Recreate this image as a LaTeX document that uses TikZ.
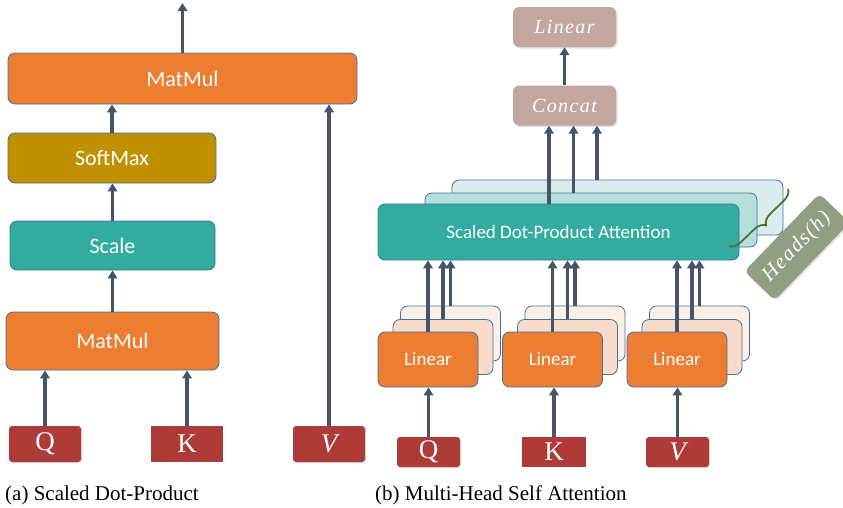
\RequirePackage{fix-cm}
\documentclass[tikz,border=0pt]{standalone}
\usepackage{fontspec}
\newfontfamily\boxfont{Carlito}
\newfontfamily\serfont{Liberation Serif}
\newfontfamily\eqfont[LetterSpace=7]{Liberation Serif}
\usetikzlibrary{arrows.meta,decorations.pathreplacing,shadows}
\definecolor{orng}{HTML}{ED7D31}
\definecolor{gold}{HTML}{BF9000}
\definecolor{teal1}{HTML}{32AC9E}
\definecolor{teal2}{HTML}{B5DFDA}
\definecolor{teal3}{HTML}{D9EEEC}
\definecolor{peach2}{HTML}{F8DCCB}
\definecolor{peach3}{HTML}{FCEFE6}
\definecolor{dred}{HTML}{AE3B37}
\definecolor{rosy}{HTML}{C4A6A1}
\definecolor{bord}{HTML}{41719C}
\definecolor{arrc}{HTML}{44546A}
\definecolor{headc}{HTML}{919E81}
\definecolor{bracec}{HTML}{4F7030}
\begin{document}
\begin{tikzpicture}[x=1pt,y=-1pt,
  bx/.style={draw=bord, line width=0.8pt, rounded corners=7pt, inner sep=0pt, text=white, font=\boxfont\fontsize{22}{24}\selectfont},
  lbx/.style={bx, minimum width=100pt, minimum height=55pt, font=\boxfont\fontsize{19}{22}\selectfont},
  inp/.style={fill=dred, inner sep=0pt, text=white, font=\serfont\fontsize{27}{29}\selectfont, rounded corners=3pt, drop shadow={opacity=0.25, shadow xshift=1pt, shadow yshift=-1pt}},
  inpsq/.style={fill=dred, inner sep=0pt, text=white, font=\serfont\fontsize{27}{29}\selectfont},
  rbx/.style={fill=rosy, inner sep=0pt, text=white, rounded corners=6pt, minimum width=103pt, minimum height=40pt, font=\eqfont\itshape\fontsize{20}{22}\selectfont, drop shadow={opacity=0.25, shadow xshift=1.5pt, shadow yshift=-1.5pt}},
  arr/.style={draw=arrc, line width=3.1pt, -{Triangle[width=9.5pt,length=8pt]}},
  captxt/.style={anchor=base west, inner sep=0pt, font=\serfont\fontsize{21}{24}\selectfont}
]
\useasboundingbox (0,0) rectangle (843,507);

% ---------- (a) ----------
\node[bx, fill=orng, minimum width=349pt, minimum height=51pt] (mm1) at (182.5,78.5) {MatMul};
\node[bx, fill=gold, minimum width=208pt, minimum height=50pt] (sm) at (112,158) {SoftMax};
\node[bx, fill=teal1, minimum width=205pt, minimum height=49pt] (sc) at (112.5,245.5) {Scale};
\node[bx, fill=orng, minimum width=213pt, minimum height=58pt] (mm2) at (112.5,341) {MatMul};
\node[inp, minimum width=72pt, minimum height=36pt] (qa) at (45,444) {Q};
\node[inpsq, minimum width=72pt, minimum height=36pt] (ka) at (187,444) {K};
\node[inp, minimum width=72pt, minimum height=36pt] (va) at (329,444) {\itshape V};
\coordinate (outa) at (182.5,3);
\draw[arr] (mm1.north) -- (outa);
\draw[arr] (sm.north) -- (sm.north |- mm1.south);
\draw[arr] (sc.north) -- (sc.north |- sm.south);
\draw[arr] (mm2.north) -- (mm2.north |- sc.south);
\draw[arr] (qa.north) -- (qa.north |- mm2.south);
\draw[arr] (ka.north) -- (ka.north |- mm2.south);
\draw[arr] (va.north) -- (va.north |- mm1.south);
\node[captxt] (capa) at (5,500) {(a) Scaled Dot-Product};

% ---------- (b) ----------
\node[rbx] (lin) at (564.5,27) {Linear};
\node[rbx] (cc) at (564.5,105.5) {Concat};
\draw[arr] (cc.north) -- (cc.north |- lin.south);

\node[bx, fill=teal3, minimum width=331pt, minimum height=55pt] (sd3) at (617.5,207.5) {};
\node[bx, fill=teal2, minimum width=332pt, minimum height=54pt] (sd2) at (591,220) {};
\node[bx, fill=teal1, minimum width=361pt, minimum height=56pt, font=\boxfont\fontsize{19}{22}\selectfont] (sd1) at (558.5,232) {Scaled Dot-Product Attention};
\coordinate (xa) at (549,0);
\coordinate (xb) at (573.5,0);
\coordinate (xc) at (597,0);
\draw[arr] (xa |- sd1.north) -- (xa |- cc.south);
\draw[arr] (xb |- sd2.north) -- (xb |- cc.south);
\draw[arr] (xc |- sd3.north) -- (xc |- cc.south);

% brace and heads
\coordinate (bu) at (788,189);
\coordinate (bl) at (729,246);
\draw[bracec, line width=1.8pt, decorate, decoration={brace, amplitude=11pt}] (bu) -- (bl);
\node[fill=headc, text=white, rounded corners=6pt, rotate=46, minimum width=108pt, minimum height=42pt, inner sep=0pt, font=\eqfont\itshape\fontsize{21}{23}\selectfont, drop shadow={opacity=0.2, shadow xshift=1.5pt, shadow yshift=-1.5pt}] (hd) at (797,247) {Heads(h)};

% linear groups
\foreach \n/\x in {1/428, 2/552.5, 3/677}{
  \node[lbx, fill=peach3] (l\n c) at (\x+22.5,333.5) {};
  \node[lbx, fill=peach2] (l\n b) at (\x+15,347) {};
  \node[lbx, fill=orng] (l\n a) at (\x,359.5) {Linear};
  \draw[arr] (l\n a.north) -- (l\n a.north |- sd1.south);
  \draw[arr] (l\n b.north) -- (l\n b.north |- sd1.south);
  \draw[arr] (l\n c.north) -- (l\n c.north |- sd1.south);
}
\node[inp, minimum width=63pt, minimum height=30pt] (qb) at (428.5,452) {Q};
\node[inpsq, minimum width=64pt, minimum height=30pt] (kb) at (554,452) {K};
\node[inp, minimum width=63pt, minimum height=30pt] (vb) at (677.5,452) {\itshape V};
\draw[arr] (qb.north) -- (qb.north |- l1a.south);
\draw[arr] (kb.north) -- (kb.north |- l2a.south);
\draw[arr] (vb.north) -- (vb.north |- l3a.south);
\node[captxt] (capb) at (375,500) {(b) Multi-Head Self Attention};
\end{tikzpicture}
\end{document}
